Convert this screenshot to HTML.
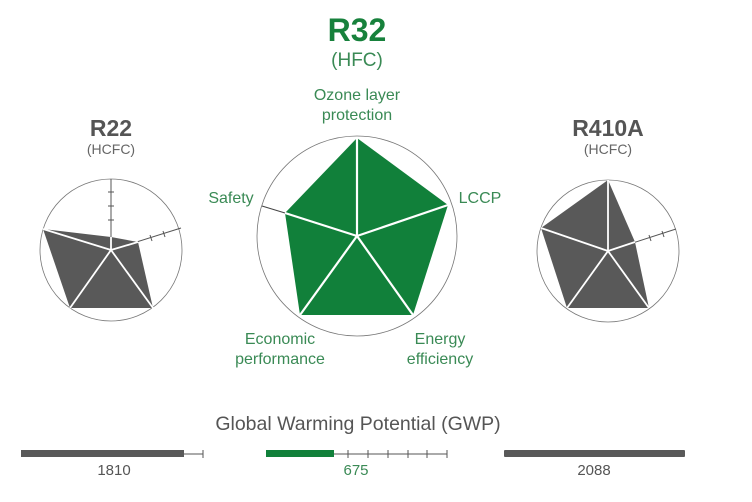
<!DOCTYPE html>
<html><head><meta charset="utf-8"><style>
html,body{margin:0;padding:0;background:#fff;}
svg{display:block;font-family:"Liberation Sans",sans-serif;}
</style></head><body>
<svg width="752" height="502" viewBox="0 0 752 502" xmlns="http://www.w3.org/2000/svg">
<!-- R32 -->
<text x="357" y="41" text-anchor="middle" font-size="32" font-weight="bold" fill="#17813c">R32</text>
<text x="357" y="66" text-anchor="middle" font-size="19" fill="#3a8a55">(HFC)</text>
<text x="357" y="100" text-anchor="middle" font-size="16" fill="#3a8a55">Ozone layer</text>
<text x="357" y="120" text-anchor="middle" font-size="16" fill="#3a8a55">protection</text>
<text x="231" y="203" text-anchor="middle" font-size="16" fill="#3a8a55">Safety</text>
<text x="480" y="203" text-anchor="middle" font-size="16" fill="#3a8a55">LCCP</text>
<text x="280" y="344" text-anchor="middle" font-size="16" fill="#3a8a55">Economic</text>
<text x="280" y="364" text-anchor="middle" font-size="16" fill="#3a8a55">performance</text>
<text x="440" y="344" text-anchor="middle" font-size="16" fill="#3a8a55">Energy</text>
<text x="440" y="364" text-anchor="middle" font-size="16" fill="#3a8a55">efficiency</text>
<circle cx="357" cy="236" r="100" fill="none" stroke="#777" stroke-width="0.8"/>
<line x1="262" y1="206" x2="285" y2="213" stroke="#444" stroke-width="1"/>
<polygon points="357,138 448,205 413,315 300,315 285,213" fill="#11803a"/>
<g stroke="#fff" stroke-width="2.2">
<line x1="357" y1="236" x2="357" y2="138"/><line x1="357" y1="236" x2="448" y2="205"/>
<line x1="357" y1="236" x2="413" y2="315"/><line x1="357" y1="236" x2="300" y2="315"/>
<line x1="357" y1="236" x2="285" y2="213"/></g>

<!-- R22 -->
<text x="111" y="136" text-anchor="middle" font-size="23" font-weight="bold" fill="#555">R22</text>
<text x="111" y="154" text-anchor="middle" font-size="14" fill="#666">(HCFC)</text>
<circle cx="111" cy="250" r="71" fill="none" stroke="#777" stroke-width="0.8"/>
<g stroke="#555" stroke-width="1"><line x1="111" y1="250" x2="111" y2="179"/><line x1="111" y1="250" x2="181" y2="228"/>
<line x1="108" y1="192" x2="114" y2="192"/><line x1="108" y1="206" x2="114" y2="206"/><line x1="108" y1="220" x2="114" y2="220"/>
<line x1="150" y1="235" x2="152" y2="241"/><line x1="163" y1="231" x2="165" y2="237"/></g>
<polygon points="111,237 138,242 153,308 70,308 43,229" fill="#595959"/>
<g stroke="#fff" stroke-width="1.8">
<line x1="111" y1="250" x2="111" y2="237"/><line x1="111" y1="250" x2="138" y2="242"/>
<line x1="111" y1="250" x2="153" y2="308"/><line x1="111" y1="250" x2="70" y2="308"/><line x1="111" y1="250" x2="43" y2="229"/></g>

<!-- R410A -->
<text x="608" y="136" text-anchor="middle" font-size="23" font-weight="bold" fill="#555">R410A</text>
<text x="608" y="154" text-anchor="middle" font-size="14" fill="#666">(HCFC)</text>
<circle cx="608" cy="251" r="71" fill="none" stroke="#777" stroke-width="0.8"/>
<g stroke="#555" stroke-width="1"><line x1="608" y1="251" x2="676" y2="229"/>
<line x1="649" y1="235" x2="651" y2="241"/><line x1="662" y1="231" x2="664" y2="237"/></g>
<polygon points="608,180 635,242 649,308 567,308 541,228" fill="#595959"/>
<g stroke="#fff" stroke-width="1.8">
<line x1="608" y1="251" x2="608" y2="180"/><line x1="608" y1="251" x2="635" y2="242"/>
<line x1="608" y1="251" x2="649" y2="308"/><line x1="608" y1="251" x2="567" y2="308"/><line x1="608" y1="251" x2="541" y2="228"/></g>

<!-- GWP -->
<text x="358" y="430" text-anchor="middle" font-size="19.5" fill="#555">Global Warming Potential (GWP)</text>
<rect x="21" y="450" width="163" height="7" fill="#595959"/>
<g stroke="#555" stroke-width="1"><line x1="184" y1="454" x2="203" y2="454"/><line x1="203" y1="450" x2="203" y2="458"/></g>
<rect x="266" y="450" width="68" height="7" fill="#11803a"/>
<g stroke="#555" stroke-width="1"><line x1="334" y1="454" x2="447" y2="454"/>
<line x1="348" y1="450" x2="348" y2="458"/><line x1="368" y1="450" x2="368" y2="458"/><line x1="388" y1="450" x2="388" y2="458"/>
<line x1="408" y1="450" x2="408" y2="458"/><line x1="427" y1="450" x2="427" y2="458"/><line x1="447" y1="450" x2="447" y2="458"/></g>
<rect x="504" y="450" width="181" height="7" rx="1" fill="#595959"/>
<text x="114" y="475" text-anchor="middle" font-size="15" fill="#555">1810</text>
<text x="356" y="475" text-anchor="middle" font-size="15" fill="#3a8a55">675</text>
<text x="594" y="475" text-anchor="middle" font-size="15" fill="#555">2088</text>
</svg>
</body></html>
